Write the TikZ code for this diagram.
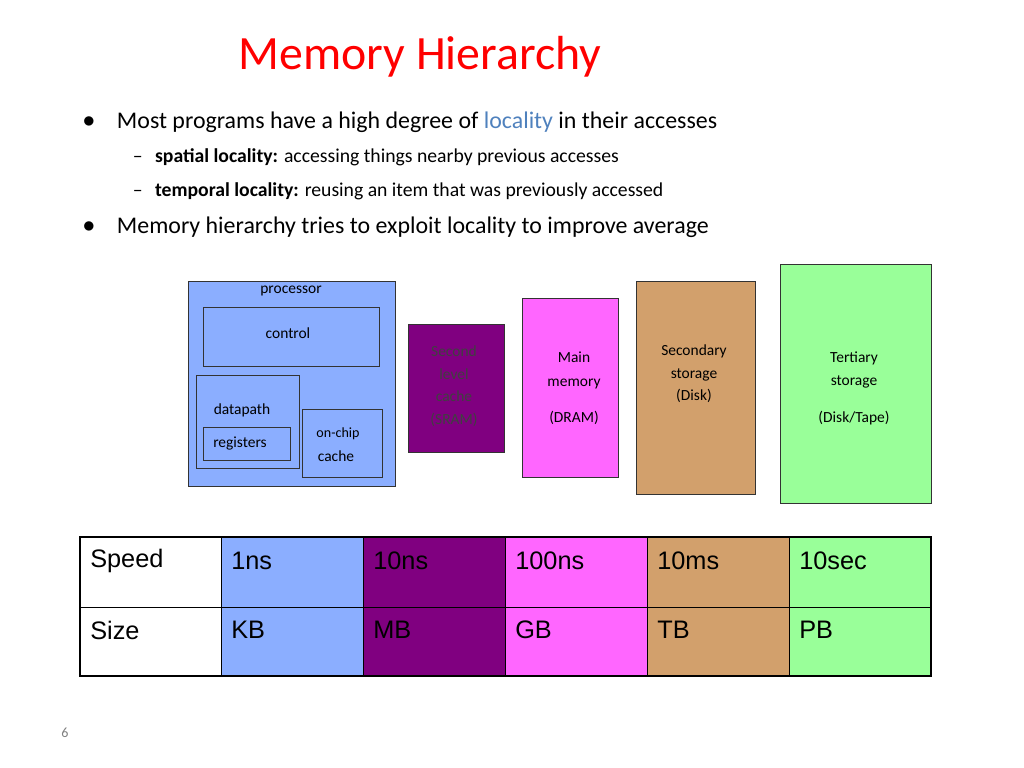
\documentclass[tikz,border=0pt]{standalone}
\usepackage{fontspec}
\setmainfont{Carlito}
\newfontfamily\tablefont{Liberation Sans}
\definecolor{procblue}{RGB}{139,174,255}
\definecolor{cachepurple}{RGB}{128,0,128}
\definecolor{mainpink}{RGB}{255,102,255}
\definecolor{disktan}{RGB}{210,160,108}
\definecolor{tapegreen}{RGB}{153,255,153}
\definecolor{localblue}{RGB}{79,129,189}
\tikzset{
  unit/.style={draw=black!80},
  lbl/.style={font=\fontsize{11}{13}\selectfont, align=center, inner sep=0pt},
  cell/.style={font=\tablefont\fontsize{18}{20}\selectfont, anchor=west, inner sep=0pt},
}
\begin{document}
\begin{tikzpicture}[x=0.025cm,y=-0.025cm]
\useasboundingbox (0,0) rectangle (1024,768);
% title and bullets
\node (title) at (420,57) {\fontsize{34}{40}\selectfont\color{red}Memory Hierarchy};
\node[anchor=west] (b1dot) at (78,122) {\fontsize{17}{20}\selectfont$\bullet$};
\node[anchor=west] (b1) at (112,122) {\fontsize{17}{20}\selectfont Most programs have a high degree of \textcolor{localblue}{locality} in their accesses};
\node[anchor=west] (s1) at (128,157) {\fontsize{14}{17}\selectfont -- \hspace{0.4em}\textbf{spatial locality:} accessing things nearby previous accesses};
\node[anchor=west] (s2) at (128,191) {\fontsize{14}{17}\selectfont -- \hspace{0.4em}\textbf{temporal locality:} reusing an item that was previously accessed};
\node[anchor=west] (b2dot) at (78,227) {\fontsize{17}{20}\selectfont$\bullet$};
\node[anchor=west] (b2) at (112,227) {\fontsize{17}{20}\selectfont Memory hierarchy tries to exploit locality to improve average};
% processor
\draw[unit, fill=procblue] (188,281) rectangle (395,486);
\node[lbl] (proc) at (291,291) {processor};
\draw[unit] (203,307) rectangle (379,366);
\node[lbl] (ctrl) at (288,333) {control};
\draw[unit] (196,375) rectangle (299,468);
\node[lbl] (dp) at (242,410) {datapath};
\draw[unit] (203,427) rectangle (290,460);
\node[lbl] (regs) at (240,444) {registers};
\draw[unit] (302,409) rectangle (382,477);
\node[lbl, font=\fontsize{10}{12}\selectfont] (oc1) at (338,434) {on-chip};
\node[lbl] (oc2) at (336,456) {cache};
% memory levels
\draw[unit, fill=cachepurple] (408,324) rectangle (504,452);
\node[lbl, text=black!75, align=center] (l2) at (454,386) {Second\\[3pt]level\\[3pt]cache\\[3pt](SRAM)};
\draw[unit, fill=mainpink] (522,298) rectangle (618,477);
\node[lbl] (mm) at (574,370) {Main\\[4pt]memory};
\node[lbl] (dram) at (574,418) {(DRAM)};
\draw[unit, fill=disktan] (636,281) rectangle (755,494);
\node[lbl] (sec) at (694,374) {Secondary\\[3pt]storage\\[3pt](Disk)};
\draw[unit, fill=tapegreen] (780,264) rectangle (931,503);
\node[lbl] (ter) at (854,370) {Tertiary\\[4pt]storage};
\node[lbl] (tape) at (854,418) {(Disk/Tape)};
% table
\fill[procblue] (221,537) rectangle (363,676);
\fill[cachepurple] (363,537) rectangle (505,676);
\fill[mainpink] (505,537) rectangle (647,676);
\fill[disktan] (647,537) rectangle (789,676);
\fill[tapegreen] (789,537) rectangle (931,676);
\foreach \x in {221,363,505,647,789} \draw[thin] (\x,537) -- (\x,676);
\draw[thin] (80,607) -- (931,607);
\draw[line width=1.5pt] (80,537) rectangle (931,676);
\node[cell] (speed) at (90,561) {Speed};
\node[cell] (size) at (90,630) {Size};
\foreach \x/\s/\m in {231/1ns/KB,373/10ns/MB,515/100ns/GB,657/10ms/TB,799/10sec/PB}{
  \node[cell] at (\x,561) {\s};
  \node[cell] at (\x,630) {\m};
}
\node[text=black!50, font=\fontsize{10}{12}\selectfont] (page) at (65,733) {6};
\end{tikzpicture}
\end{document}
